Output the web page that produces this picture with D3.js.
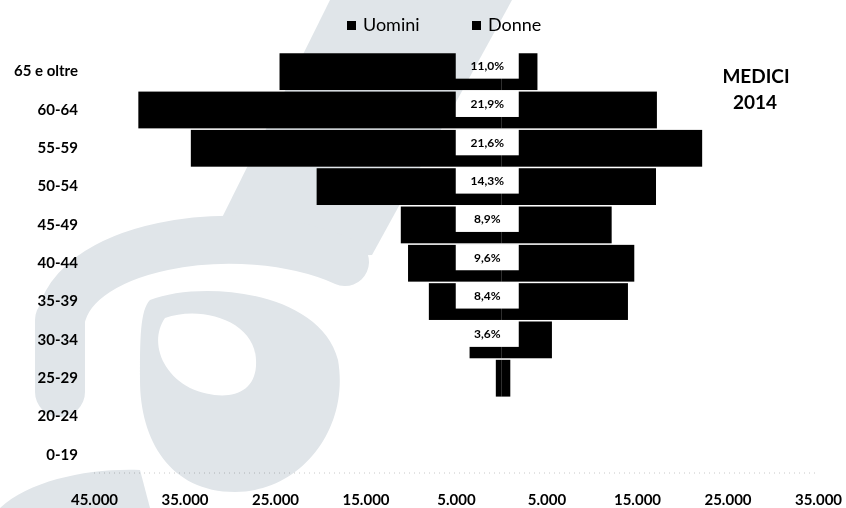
<!DOCTYPE html>
<html>
<head>
<meta charset="utf-8">
<script src="https://cdn.jsdelivr.net/npm/d3@7"></script>
<style>
  html, body { margin: 0; padding: 0; background: #fff; }
  svg { display: block; }
  text { font-family: Lato, "Open Sans", sans-serif; }
</style>
</head>
<body>
<svg id="chart" width="846" height="508"></svg>
<script>
// Fasce d'età (dall'alto verso il basso)
const categories = ["65 e oltre", "60-64", "55-59", "50-54", "45-49", "40-44",
                    "35-39", "30-34", "25-29", "20-24", "0-19"];
// Medici uomini per fascia
const uomini = [24500, 40100, 34300, 20400, 11100, 10300, 8000, 3500, 600, 0, 0];
// Medici donne per fascia
const donne  = [4000, 17200, 22200, 17100, 12200, 14700, 14000, 5600, 1000, 0, 0];
// Quota della fascia sul totale
const quote  = ["11,0%", "21,9%", "21,6%", "14,3%", "8,9%", "9,6%", "8,4%", "3,6%", "", "", ""];
// Valori delle tacche dell'asse orizzontale
const tickValues = [-45000, -35000, -25000, -15000, -5000, 5000, 15000, 25000, 35000];
const seriesNames = ["Uomini", "Donne"];

const svg = d3.select("#chart");
const W = 846, H = 508;
const margin = { left: 94, right: 28, top: 52.5, bottom: 34 };

const x = d3.scaleLinear()
  .domain([-45000, 35000])
  .range([margin.left, W - margin.right]);

const y = d3.scaleBand()
  .domain(categories)
  .range([margin.top, H - margin.bottom])
  .paddingInner(0.04)
  .paddingOuter(0.02);

// Asse orizzontale (linea tratteggiata leggera)
svg.append("line")
  .attr("x1", x(-45000)).attr("x2", x(35000))
  .attr("y1", H - margin.bottom - 1).attr("y2", H - margin.bottom - 1)
  .attr("stroke", "#c8c8c8").attr("stroke-width", 1)
  .attr("stroke-dasharray", "1,4");

// Barre: uomini a sinistra, donne a destra
const rows = categories.map((c, i) => ({ cat: c, u: uomini[i], d: donne[i], q: quote[i] }));

svg.append("g").selectAll("rect")
  .data(rows).join("rect")
  .attr("x", d => x(-d.u))
  .attr("y", d => y(d.cat))
  .attr("width", d => x(0) - x(-d.u))
  .attr("height", y.bandwidth())
  .attr("fill", "#000");

svg.append("g").selectAll("rect")
  .data(rows).join("rect")
  .attr("x", x(0))
  .attr("y", d => y(d.cat))
  .attr("width", d => x(d.d) - x(0))
  .attr("height", y.bandwidth())
  .attr("fill", "#000");

// Etichette percentuali in riquadro bianco
const lab = svg.append("g").selectAll("g")
  .data(rows.filter(d => d.q)).join("g")
  .attr("transform", d => `translate(${x(0) - 14},${y(d.cat) + y.bandwidth() / 2 - 6})`);
lab.append("rect")
  .attr("x", -31.5).attr("y", -13)
  .attr("width", 63).attr("height", 26)
  .attr("fill", "#fff");
lab.append("text")
  .attr("text-anchor", "middle")
  .attr("dy", "0.36em")
  .attr("font-size", 12).attr("font-weight", "bold")
  .text(d => d.q);

// Asse verticale: etichette delle fasce
const yAxis = d3.axisLeft(y).tickSize(0).tickPadding(0);
const gy = svg.append("g")
  .attr("transform", `translate(78,0)`)
  .call(yAxis);
gy.select(".domain").remove();
gy.selectAll("text")
  .attr("font-family", "Lato, sans-serif")
  .attr("font-size", 15).attr("font-weight", "bold")
  .attr("fill", "#000");

// Asse orizzontale: valori assoluti con punto come separatore delle migliaia
const itLocale = d3.formatLocale({ decimal: ",", thousands: ".", grouping: [3], currency: ["€", ""] });
const fmt = itLocale.format(",d");
const xAxis = d3.axisBottom(x)
  .tickValues(tickValues)
  .tickSize(0).tickPadding(0)
  .tickFormat(d => fmt(Math.abs(d)));
const gx = svg.append("g")
  .attr("transform", `translate(0,${H - 8})`)
  .call(xAxis);
gx.select(".domain").remove();
gx.selectAll("text")
  .attr("font-family", "Lato, sans-serif")
  .attr("font-size", 15).attr("font-weight", "bold")
  .attr("fill", "#000")
  .attr("dy", "0.36em");

// Legenda
const legX = [347, 472];
const leg = svg.append("g").selectAll("g")
  .data(seriesNames).join("g")
  .attr("transform", (d, i) => `translate(${legX[i]},21)`);
leg.append("rect").attr("width", 9).attr("height", 9).attr("fill", "#000");
leg.append("text")
  .attr("x", 16).attr("y", 10)
  .attr("font-size", 18)
  .attr("fill", "#000")
  .text(d => d);

// Titolo
const title = svg.append("g").attr("text-anchor", "middle").attr("font-weight", "bold").attr("font-size", 19);
title.append("text").attr("x", 756).attr("y", 83).text("MEDICI");
title.append("text").attr("x", 755).attr("y", 109).text("2014");

// Filigrana chiara sovrapposta (moltiplica: il nero resta nero, il bianco si schiarisce)
const wmColor = "#e0e5e9";
const wm = svg.append("g")
  .style("mix-blend-mode", "multiply")
  .style("isolation", "isolate");
wm.append("path").attr("fill", wmColor)
  .attr("d", "M330,0 L512,0 L372,255 L200,262 Z");
wm.append("path").attr("fill", "none").attr("stroke", wmColor)
  .attr("stroke-width", 48).attr("stroke-linecap", "round")
  .attr("d", "M60,330 C60,245 240,215 345,262");
wm.append("path").attr("fill", "none").attr("stroke", wmColor)
  .attr("stroke-width", 50).attr("stroke-linecap", "round")
  .attr("d", "M60,320 L60,392");
wm.append("path").attr("fill", wmColor).attr("fill-rule", "evenodd").attr("d",
  "M150,300 C200,280 320,290 338,360 C350,430 300,492 235,492 C170,492 140,440 140,380 C140,340 140,310 150,300 Z " +
  "M165,318 C200,305 255,320 256,360 C258,398 222,402 190,388 C160,372 150,340 165,318 Z");
wm.append("path").attr("fill", wmColor)
  .attr("d", "M0,508 C30,480 90,468 140,470 L150,508 Z");
</script>
</body>
</html>
